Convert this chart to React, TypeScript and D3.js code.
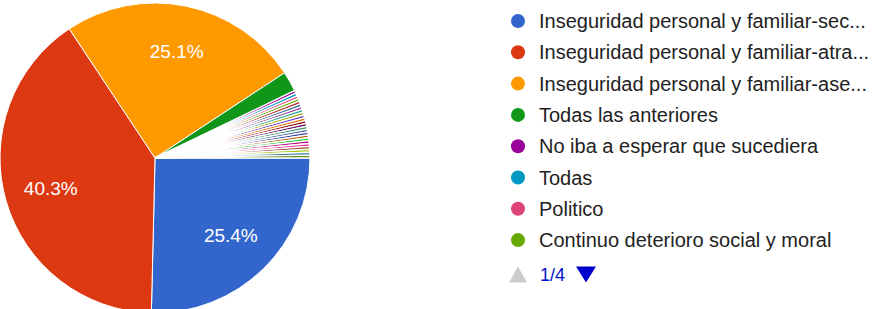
import React from "react";
import * as d3 from "d3";

const categories: string[] = [
  "Inseguridad personal y familiar-sec...",
  "Inseguridad personal y familiar-atra...",
  "Inseguridad personal y familiar-ase...",
  "Todas las anteriores",
  "No iba a esperar que sucediera",
  "Todas",
  "Politico",
  "Continuo deterioro social y moral",
  "Otra respuesta 9",
  "Otra respuesta 10",
  "Otra respuesta 11",
  "Otra respuesta 12",
  "Otra respuesta 13",
  "Otra respuesta 14",
  "Otra respuesta 15",
  "Otra respuesta 16",
  "Otra respuesta 17",
  "Otra respuesta 18",
  "Otra respuesta 19",
  "Otra respuesta 20",
  "Otra respuesta 21",
  "Otra respuesta 22",
  "Otra respuesta 23",
  "Otra respuesta 24",
  "Otra respuesta 25",
  "Otra respuesta 26",
  "Otra respuesta 27",
  "Otra respuesta 28",
];

const counts: number[] = [
  85, 135, 84, 7, 1, 1, 1, 1, 1, 1, 1, 1, 1, 1, 1, 1, 1, 1, 1, 1, 1, 1, 1, 1,
  1, 1, 1, 1,
];

const palette: string[] = [
  "#3366cc", "#dc3912", "#ff9900", "#109618", "#990099", "#0099c6", "#dd4477",
  "#66aa00", "#b82e2e", "#316395", "#994499", "#22aa99", "#aaaa11", "#6633cc",
  "#e67300", "#8b0707", "#651067", "#329262", "#5574a6", "#3b3eac", "#b77322",
  "#16d620", "#b91383", "#f4359e", "#9c5935", "#a9c413", "#2a778d", "#668d1c",
];

const pageLabel = "1/4";
const legendPerPage = 8;

const W = 884;
const H = 309;
const FONT = "Arial, 'Liberation Sans', sans-serif";

export default function App() {
  const cx = 155;
  const cy = 158;
  const r = 155;
  const total = d3.sum(counts);
  const data = categories.map((c, i) => ({ c, v: counts[i], i }));
  const pie = d3
    .pie<{ c: string; v: number; i: number }>()
    .value((d) => d.v)
    .sort(null)
    .startAngle(Math.PI / 2)
    .endAngle(Math.PI / 2 + 2 * Math.PI);
  const arcs = pie(data);
  const arc = d3
    .arc<d3.PieArcDatum<{ c: string; v: number; i: number }>>()
    .innerRadius(0)
    .outerRadius(r);
  const labelArc = d3
    .arc<d3.PieArcDatum<{ c: string; v: number; i: number }>>()
    .innerRadius(r * 0.7)
    .outerRadius(r * 0.7);
  const color = d3.scaleOrdinal<number, string>().domain(d3.range(palette.length)).range(palette);

  const legendX = 518;
  const legendY0 = 21;
  const legendStep = 31.3;
  const legendItems = data.slice(0, legendPerPage);
  const pagerY = legendY0 + legendStep * 8.1;

  return (
    <svg
      width={W}
      height={H}
      style={{ position: "absolute", left: 0, top: 0, background: "#fff" }}
    >
      <rect x={0} y={0} width={W} height={H} fill="#fff" />
      <g transform={`translate(${cx},${cy})`}>
        {arcs.map((a) => (
          <path
            key={a.data.c}
            d={arc(a) || ""}
            fill={color(a.data.i)}
            stroke="#fff"
            strokeWidth={a.data.v / total < 0.01 ? 1.4 : 1}
          />
        ))}
        {arcs
          .filter((a) => a.data.v / total >= 0.05)
          .map((a) => {
            const [x, y] = labelArc.centroid(a);
            return (
              <text
                key={"l" + a.data.c}
                x={x}
                y={y}
                textAnchor="middle"
                dominantBaseline="central"
                fill="#fff"
                fontFamily={FONT}
                fontSize={19}
              >
                {((a.data.v / total) * 100).toFixed(1) + "%"}
              </text>
            );
          })}
      </g>
      <g fontFamily={FONT}>
        {legendItems.map((d, k) => (
          <g key={"lg" + d.c} transform={`translate(${legendX},${legendY0 + k * legendStep})`}>
            <circle cx={0} cy={0} r={7} fill={color(d.i)} />
            <text x={21} y={0} dominantBaseline="central" fontSize={20} fill="#222">
              {d.c}
            </text>
          </g>
        ))}
        <g transform={`translate(${legendX},${pagerY})`}>
          <path d="M-9,8 L0,-8 L9,8 Z" fill="#cccccc" />
          <text x={22} y={0} dominantBaseline="central" fontSize={18} fill="#0011cc">
            {pageLabel}
          </text>
          <path d="M58,-8 L78,-8 L68,8 Z" fill="#0000cc" />
        </g>
      </g>
    </svg>
  );
}
